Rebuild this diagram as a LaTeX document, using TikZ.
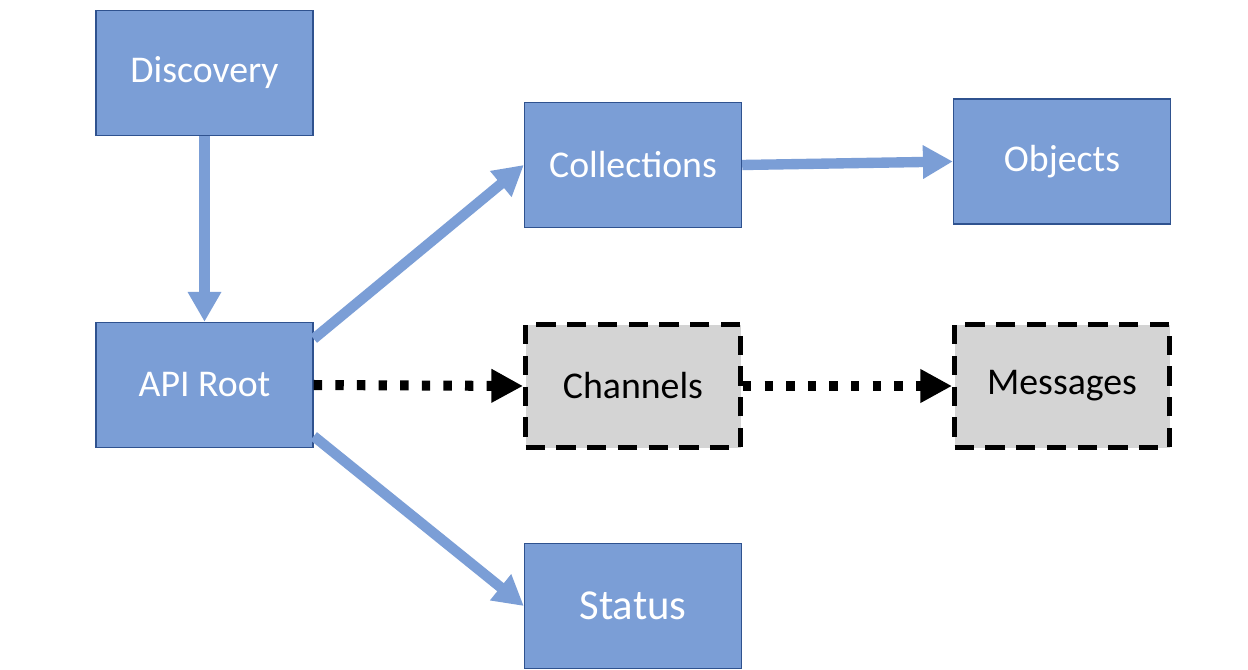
\documentclass[tikz,border=0pt]{standalone}
\usepackage{fontspec}
\setmainfont{Carlito}
\usepackage{tikz}
\usetikzlibrary{positioning, arrows.meta}

\definecolor{boxblue}{RGB}{123,158,214}
\definecolor{edgeblue}{RGB}{47,82,143}

\tikzset{
    bluebox/.style={draw=edgeblue, line width=0.8pt, fill=boxblue, text=white,
        minimum width=4.34cm, minimum height=2.5cm, inner sep=0pt,
        font=\fontsize{21.5}{24}\selectfont},
    dashbox/.style={draw=black, line width=2.8pt, dash pattern=on 11pt off 6.5pt,
        fill=black!17, text=black, minimum width=4.3cm, minimum height=2.46cm,
        inner sep=0pt, font=\fontsize{21.5}{24}\selectfont},
    bluearrow/.style={draw=boxblue, line width=5.9pt,
        -{Triangle[length=17pt, width=18pt]}},
    dotarrow/.style={draw=black, line width=5.7pt, dash pattern=on 4.8pt off 7.5pt,
        -{Triangle[length=18pt, width=18pt]}}
}

\begin{document}
\begin{tikzpicture}
\useasboundingbox[fill=white] (0,0) rectangle (24.96,13.38);

% Top row
\node[bluebox] (disc) at (4.09,11.92) {Discovery};
\node[bluebox] (coll) at (12.66,10.08) {Collections};
\node[bluebox] (obj) at (21.24,10.15) {Objects};

% Middle row
\node[bluebox] (apiroot) at (4.09,5.68) {API Root};
\node[dashbox] (chan) at (12.66,5.66) {Channels};
\node[dashbox] (msg) at (21.24,5.66) {Messages};

% Bottom
\node[bluebox, font=\fontsize{24.3}{28}\selectfont] (stat) at (12.66,1.26) {Status};

% Connectors
\draw[bluearrow] (disc) -- (apiroot);
\draw[bluearrow] ([yshift=-0.34cm]apiroot.north east) -- (coll.west);
\draw[bluearrow] (coll.east) -- (obj.west);
\draw[bluearrow] ([yshift=0.24cm]apiroot.south east) -- (stat.west);
\draw[dotarrow] (apiroot.east) -- (chan.west);
\draw[dotarrow] (chan.east) -- (msg.west);
\end{tikzpicture}
\end{document}
